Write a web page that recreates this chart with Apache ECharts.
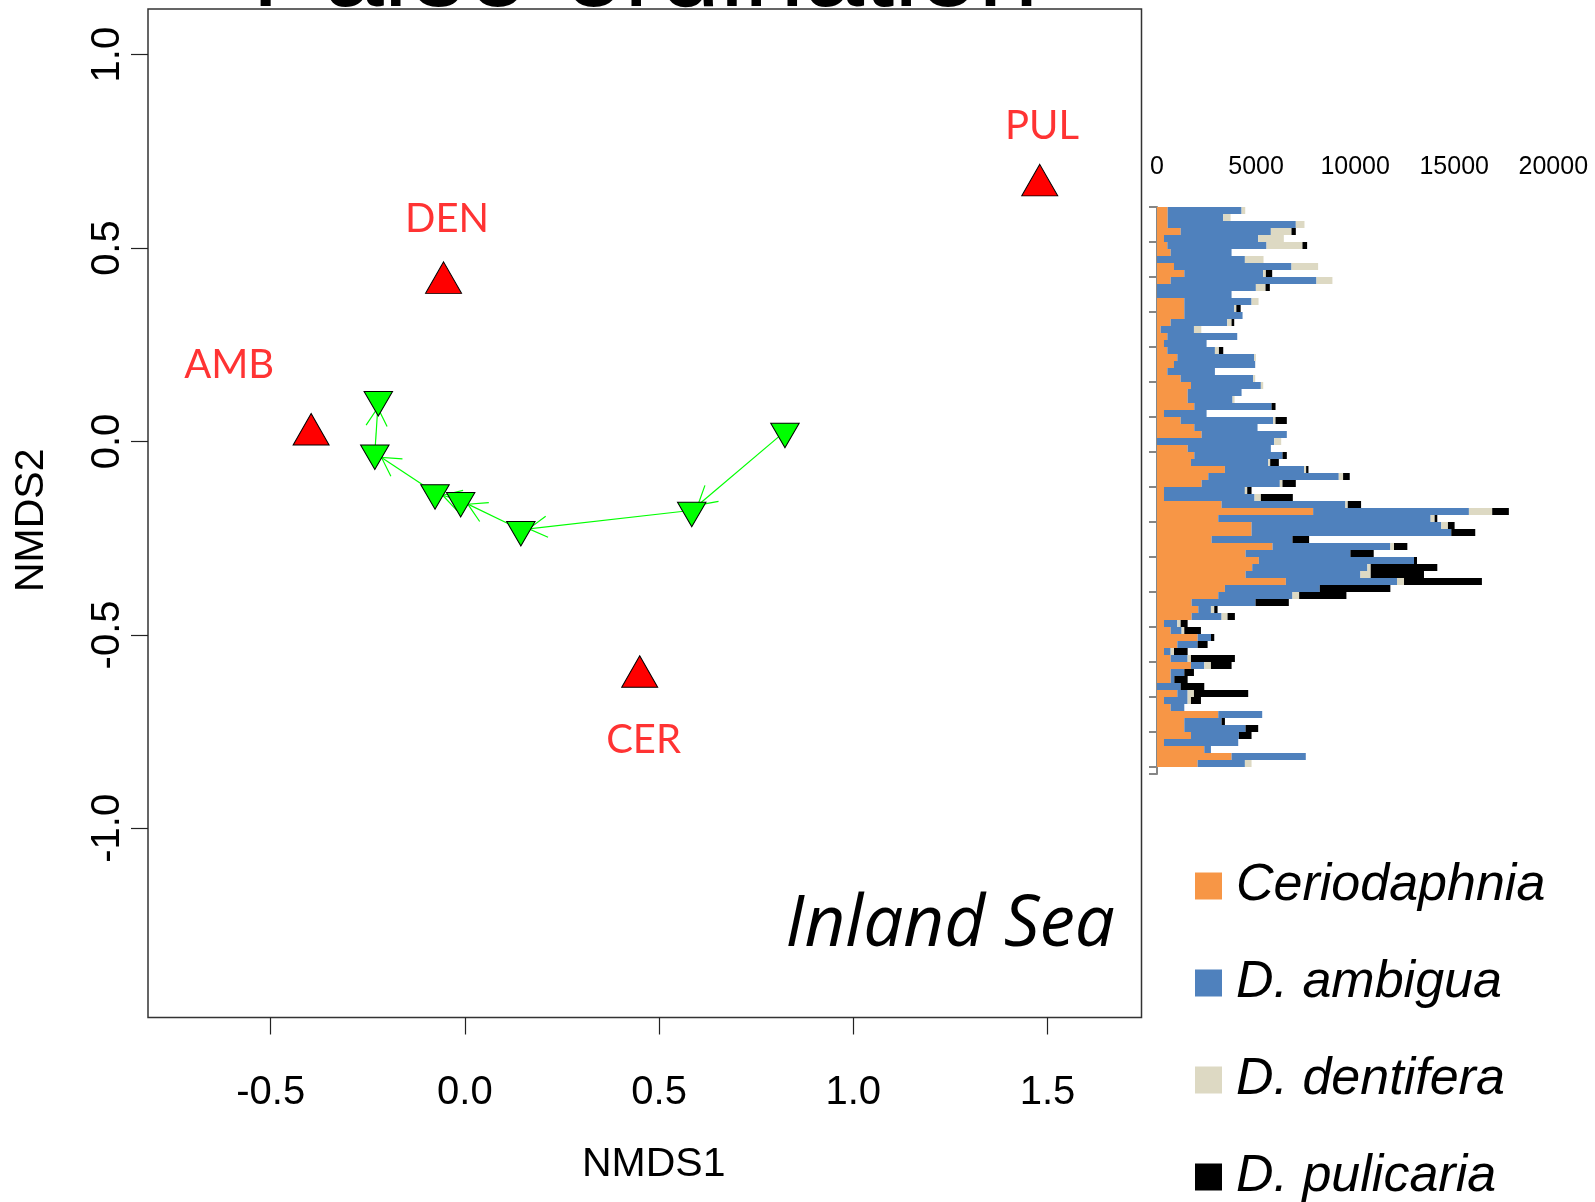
<!DOCTYPE html>
<html>
<head>
<meta charset="utf-8">
<script src="https://cdn.jsdelivr.net/npm/echarts@6/dist/echarts.min.js"></script>
<style>
html, body { margin: 0; padding: 0; background: #fff; }
#main { width: 1595px; height: 1202px; }
</style>
</head>
<body>
<div id="main"></div>
<script>
// modern sites (red triangles)
var siteNames = ['PUL', 'DEN', 'AMB', 'CER'];
var siteX = [1.48, -0.055, -0.396, 0.45];
var siteY = [0.662, 0.41, 0.018, -0.608];
var labelX = [1.486, -0.046, -0.607, 0.46];
var labelY = [0.816, 0.575, 0.198, -0.772];

// core trajectory (green triangles), oldest -> newest
var coreX = [0.824, 0.584, 0.144, -0.011, -0.077, -0.232, -0.223];
var coreY = [0.026, -0.178, -0.228, -0.153, -0.133, -0.030, 0.108];

// axis ticks of the ordination
var xTicks = [-0.5, 0, 0.5, 1, 1.5];
var yTicks = [-1, -0.5, 0, 0.5, 1];

// stacked bars, top sample first
var speciesNames = ['Ceriodaphnia', 'D. ambigua', 'D. dentifera', 'D. pulicaria'];
var speciesColors = ['#F79646', '#4F81BD', '#DDD9C3', '#000000'];

var cerio = [538, 538, 538, 1193, 353, 521, 689, 0, 857, 1378,
    689, 0, 0, 1378, 1378, 1378, 689, 185, 521, 353,
    521, 1025, 857, 521, 1193, 1714, 1546, 1546, 1882, 353,
    1193, 1882, 2251, 0, 1546, 1882, 1714, 3427, 2587, 2251,
    353, 353, 3259, 7879, 3091, 4771, 4771, 2755, 5830, 4469,
    5141, 4805, 4469, 6502, 3427, 3091, 1747, 2083, 1747, 353,
    689, 2050, 1025, 353, 689, 1714, 689, 689, 0, 1025,
    353, 689, 3091, 1378, 1378, 1714, 353, 2386, 3763, 2050];

var ambig = [3730, 2806, 6468, 4553, 4754, 5006, 3074, 4435, 5930, 3982,
    7358, 4990, 3763, 3394, 2526, 2940, 2856, 1680, 3528, 2150,
    2402, 3881, 4099, 2402, 3662, 3528, 2722, 2268, 3898, 2150,
    4670, 3192, 4301, 5914, 4200, 4452, 3898, 3998, 6586, 3948,
    4082, 4570, 6250, 7862, 10718, 9576, 10080, 4082, 5947, 5292,
    7829, 5813, 5796, 5611, 4788, 3746, 3226, 638, 1512, 672,
    554, 672, 1025, 336, 857, 672, 689, 185, 1193, 521,
    1193, 689, 2218, 1882, 3091, 2419, 3746, 336, 3746, 2386];

var dentif = [185, 370, 437, 1042, 1294, 1814, 0, 941, 1344, 134,
    806, 487, 0, 353, 100, 0, 218, 370, 0, 0,
    202, 84, 0, 0, 101, 118, 0, 101, 0, 0,
    118, 0, 0, 353, 0, 0, 101, 101, 218, 134,
    118, 319, 118, 1176, 202, 336, 0, 0, 185, 0,
    0, 168, 521, 353, 0, 336, 0, 168, 302, 168,
    134, 0, 0, 168, 168, 336, 0, 0, 0, 319,
    168, 0, 0, 0, 0, 0, 0, 0, 0, 336];

var pulic = [0, 0, 0, 218, 0, 235, 0, 0, 0, 319,
    0, 218, 0, 0, 218, 0, 134, 0, 0, 0,
    218, 0, 0, 0, 0, 0, 0, 0, 202, 0,
    571, 0, 0, 0, 0, 218, 437, 118, 336, 672,
    218, 1613, 672, 840, 134, 336, 1210, 840, 672, 1176,
    151, 3360, 2688, 3931, 3562, 2386, 1680, 168, 370, 353,
    840, 168, 504, 689, 2218, 1042, 487, 672, 1193, 2738,
    504, 0, 0, 168, 638, 638, 0, 0, 0, 0];

// one empty slot at the bottom, like the original axis
var samples = [];
for (var i = 1; i <= 81; i++) {
    samples.push(i);
}

var sitePts = [], labelPts = [], corePts = [], arrowData = [];
for (var i = 0; i < siteX.length; i++) {
    sitePts.push([siteX[i], siteY[i]]);
    labelPts.push({ name: siteNames[i], value: [labelX[i], labelY[i]] });
}
for (var i = 0; i < coreX.length; i++) {
    corePts.push([coreX[i], coreY[i]]);
    if (i < coreX.length - 1) {
        arrowData.push([coreX[i], coreY[i], coreX[i + 1], coreY[i + 1]]);
    }
}

function renderArrow(params, api) {
    var p0 = api.coord([api.value(0), api.value(1)]);
    var p1 = api.coord([api.value(2), api.value(3)]);
    var dx = p1[0] - p0[0], dy = p1[1] - p0[1];
    var len = Math.sqrt(dx * dx + dy * dy);
    var ux = dx / len, uy = dy / len;
    var a = [p0[0] + ux * 8, p0[1] + uy * 8];
    var b = [p1[0] - ux * 8, p1[1] - uy * 8];
    var back = Math.atan2(-uy, -ux);
    var hl = 21, hw = Math.PI / 6;
    var h1 = [b[0] + hl * Math.cos(back + hw), b[1] + hl * Math.sin(back + hw)];
    var h2 = [b[0] + hl * Math.cos(back - hw), b[1] + hl * Math.sin(back - hw)];
    var st = { stroke: '#00ff00', lineWidth: 1.2, fill: null };
    return {
        type: 'group',
        children: [
            { type: 'line', shape: { x1: a[0], y1: a[1], x2: b[0], y2: b[1] }, style: st },
            { type: 'polyline', shape: { points: [h1, b, h2] }, style: st }
        ]
    };
}

// zero counts -> no bar at all
function noZero(arr) {
    var out = [];
    for (var i = 0; i < arr.length; i++) {
        out.push(arr[i] === 0 ? '-' : arr[i]);
    }
    return out;
}

var fmt1 = function (v) { return Number(v).toFixed(1); };
var arial = '"Liberation Sans", Arial, sans-serif';

var barSeries = [];
var barData = [cerio, ambig, dentif, pulic];
for (var k = 0; k < speciesNames.length; k++) {
    barSeries.push({
        name: speciesNames[k],
        type: 'bar',
        xAxisIndex: 1,
        yAxisIndex: 1,
        stack: 'taxa',
        barCategoryGap: '0%',
        itemStyle: { color: speciesColors[k] },
        data: noZero(barData[k])
    });
}

var app = echarts.init(document.getElementById('main'));
var option = {
    animation: false,
    backgroundColor: '#fff',
    textStyle: { fontFamily: arial },
    grid: [{
        left: 148, top: 9, right: 453.5, bottom: 184.5,
        show: true, borderColor: '#333', borderWidth: 1.5
    }, {
        // 81 rows x 7px, so every bar edge sits on a whole pixel
        left: 1157, top: 207, right: 41.7, bottom: 428
    }],
    legend: {
        orient: 'vertical',
        left: 1195,
        top: 860,
        height: 400,
        padding: 0,
        itemWidth: 27,
        itemHeight: 27,
        itemGap: 45,
        icon: 'rect',
        textStyle: { fontFamily: arial, fontStyle: 'italic', fontSize: 52, color: '#000', padding: [0, 0, 0, 9] },
        data: speciesNames
    },
    xAxis: [{
        gridIndex: 0,
        type: 'value',
        min: -0.816,
        max: 1.742,
        name: 'NMDS1',
        nameLocation: 'middle',
        nameGap: 127,
        nameTextStyle: { fontSize: 41, color: '#000', fontFamily: arial, padding: [0, 0, 0, 18] },
        axisLine: { show: false, onZero: false },
        splitLine: { show: false },
        axisTick: { customValues: xTicks, length: 17, lineStyle: { color: '#222', width: 1.2 } },
        axisLabel: { customValues: xTicks, formatter: fmt1, fontSize: 40, color: '#000', margin: 55 }
    }, {
        gridIndex: 1,
        type: 'value',
        position: 'top',
        min: 0,
        max: 20000,
        interval: 5000,
        splitLine: { show: false },
        axisLine: { lineStyle: { color: '#868686', width: 2 } },
        axisTick: { length: 7.5, lineStyle: { color: '#868686', width: 2 } },
        axisLabel: { fontSize: 25, color: '#000', margin: 27, formatter: function (v) { return String(v); } }
    }],
    yAxis: [{
        gridIndex: 0,
        type: 'value',
        min: -1.489,
        max: 1.118,
        name: 'NMDS2',
        nameLocation: 'middle',
        nameGap: 96,
        nameTextStyle: { fontSize: 41, color: '#000', fontFamily: arial, padding: [0, 14, 0, 0] },
        axisLine: { show: false, onZero: false },
        splitLine: { show: false },
        axisTick: { customValues: yTicks, length: 17, lineStyle: { color: '#222', width: 1.2 } },
        axisLabel: { customValues: yTicks, formatter: fmt1, fontSize: 40, color: '#000', margin: 20, rotate: 90 }
    }, {
        gridIndex: 1,
        type: 'category',
        inverse: true,
        data: samples,
        axisLabel: { show: false },
        axisLine: { show: true, onZero: false, lineStyle: { color: '#868686', width: 2 } },
        axisTick: { show: true, interval: 4, length: 8, lineStyle: { color: '#868686', width: 2 } }
    }],
    graphic: [{
        type: 'text',
        silent: true,
        style: {
            text: 'Paleo-ordination', x: 645, y: -24,
            font: '108px "Liberation Sans", Arial', fill: '#000',
            textAlign: 'center', textVerticalAlign: 'middle'
        }
    }, {
        type: 'text',
        silent: true,
        style: {
            text: 'Inland Sea', x: 1115, y: 926,
            font: 'italic 71px "Open Sans", Lato', fill: '#000',
            textAlign: 'right', textVerticalAlign: 'middle'
        }
    }],
    series: [{
        name: 'trajectory',
        type: 'custom',
        xAxisIndex: 0,
        yAxisIndex: 0,
        renderItem: renderArrow,
        encode: { x: [0, 2], y: [1, 3] },
        silent: true,
        z: 1,
        data: arrowData
    }, {
        name: 'core',
        type: 'scatter',
        xAxisIndex: 0,
        yAxisIndex: 0,
        symbol: 'path://M0,0 L2,0 L1,1.7 Z',
        symbolSize: [28.5, 24.5],
        symbolOffset: [0, 4.1],
        itemStyle: { color: '#00ff00', borderColor: '#000', borderWidth: 1, opacity: 1 },
        z: 3,
        data: corePts
    }, {
        name: 'sites',
        type: 'scatter',
        xAxisIndex: 0,
        yAxisIndex: 0,
        symbol: 'path://M1,0 L2,1.7 L0,1.7 Z',
        symbolSize: [36, 31.5],
        symbolOffset: [0, -5.25],
        itemStyle: { color: '#ff0000', borderColor: '#000', borderWidth: 1, opacity: 1 },
        z: 3,
        data: sitePts
    }, {
        name: 'site labels',
        type: 'scatter',
        xAxisIndex: 0,
        yAxisIndex: 0,
        symbolSize: 1,
        itemStyle: { color: 'rgba(0,0,0,0)' },
        label: {
            show: true,
            position: 'inside',
            formatter: '{b}',
            color: '#ff0000',
            fontSize: 40,
            fontFamily: 'Lato, "Open Sans", sans-serif'
        },
        z: 4,
        data: labelPts
    }].concat(barSeries)
};

app.setOption(option);
</script>
</body>
</html>
